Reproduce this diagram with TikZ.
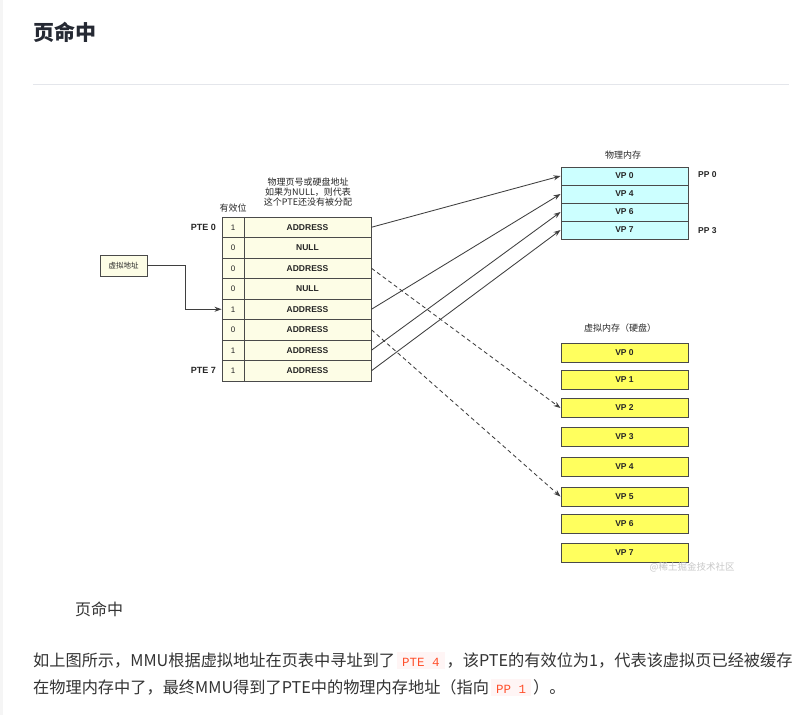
\documentclass[tikz,border=0pt]{standalone}
\usepackage{fontspec}
\usetikzlibrary{arrows.meta}
\newfontfamily\cjk{Noto Sans CJK SC}
\newfontfamily\lib{Liberation Sans}
\newfontfamily\mono{Liberation Mono}
\definecolor{cream}{HTML}{FDFDE6}
\definecolor{cyanf}{HTML}{CCFFFF}
\definecolor{yel}{HTML}{FFFF5E}
\definecolor{bdr}{HTML}{4A4A4A}
\definecolor{lnc}{HTML}{3F3F3F}
\definecolor{txt}{HTML}{333333}
\definecolor{dtxt}{HTML}{262626}
\definecolor{ttl}{HTML}{252933}
\definecolor{rulec}{HTML}{E4E6EB}
\definecolor{codebg}{HTML}{FFF5F5}
\definecolor{codered}{HTML}{FF502C}
\definecolor{wm}{HTML}{C8C8C8}
\definecolor{strip}{HTML}{F5F5F5}
\newcommand\inlinecode[1]{\hspace{2pt}{\setlength{\fboxsep}{0pt}\colorbox{codebg}{\hspace{5pt}\mono\fontsize{12.5}{12.5}\selectfont\textcolor{codered}{#1}\hspace{5pt}\rule[-3pt]{0pt}{17pt}}}\hspace{2pt}}
\tikzset{
  pte/.style={draw=bdr, fill=cream, line width=0.9pt, inner sep=0, minimum height=20.5pt},
  vbit/.style={pte, minimum width=22pt, text=dtxt, font=\lib\fontsize{8}{8}\selectfont},
  addr/.style={pte, minimum width=127pt, text=dtxt, font=\lib\bfseries\fontsize{8.5}{9}\selectfont},
  pmbox/.style={draw=bdr, fill=cyanf, line width=0.9pt, inner sep=0, minimum width=127pt, minimum height=18pt, text=dtxt, font=\lib\bfseries\fontsize{8.5}{9}\selectfont},
  vdbox/.style={draw=bdr, fill=yel, line width=1pt, inner sep=0, minimum width=127pt, minimum height=19pt, text=dtxt, font=\lib\bfseries\fontsize{8.5}{9}\selectfont},
  arr/.style={draw=lnc, line width=0.85pt, -{Stealth[length=7pt,width=5pt]}},
  darr/.style={arr, dash pattern=on 4pt off 3pt},
  lbl/.style={inner sep=0, text=dtxt, font=\cjk\fontsize{9}{10.3}\selectfont},
  blbl/.style={inner sep=0, text=dtxt, font=\lib\bfseries\fontsize{9}{10}\selectfont},
  para/.style={anchor=base west, inner sep=0, text=txt, font=\cjk\fontsize{16.2}{16.2}\selectfont}
}
\begin{document}
\begin{tikzpicture}[x=1pt,y=-1pt]
\useasboundingbox (0,0) rectangle (806,715);
\fill[white] (0,0) rectangle (806,715);
\fill[strip] (0,0) rectangle (2.5,715);
% heading
\node[anchor=base west, inner sep=0, text=ttl, font=\cjk\bfseries\fontsize{21}{21}\selectfont] (title) at (33,40) {页命中};
\draw[rulec, line width=1pt] (33,84) -- (789,84);
% virtual address
\node[draw=bdr, fill=cream, line width=0.9pt, inner sep=0, minimum width=47pt, minimum height=21pt, text=dtxt, font=\cjk\fontsize{7.5}{8}\selectfont] (va) at (123.5,265.5) {虚拟地址};
% page table
\foreach \b/\t [count=\i from 0] in {1/ADDRESS,0/NULL,0/ADDRESS,0/NULL,1/ADDRESS,0/ADDRESS,1/ADDRESS,1/ADDRESS} {
  \node[vbit] (b\i) at (233,{227.25+20.5*\i}) {\b};
  \node[addr] (r\i) at (307.5,{227.25+20.5*\i}) {\t};
}
\node[blbl, anchor=east] (pte0) at (216,227.25) {PTE 0};
\node[blbl, anchor=east] (pte7) at (216,370.75) {PTE 7};
\node[lbl] (valid) at (233,208) {有效位};
\node[lbl, align=center] (hdr) at (308,192) {物理页号或硬盘地址\\如果为NULL，则代表\\这个PTE还没有被分配};
% physical memory
\foreach \t/\y [count=\i from 0] in {VP 0/176,VP 4/194,VP 6/212,VP 7/230} {
  \node[pmbox] (pm\i) at (624.5,\y) {\t};
}
\node[lbl] (pmt) at (623,155) {物理内存};
\node[blbl, anchor=west, font=\lib\bfseries\fontsize{8.5}{9}\selectfont] (pp0) at (698,175) {PP 0};
\node[blbl, anchor=west, font=\lib\bfseries\fontsize{8.5}{9}\selectfont] (pp3) at (698,231) {PP 3};
% virtual memory (disk)
\foreach \y [count=\i from 0] in {352.5,380,408,436.5,466.5,496.5,524,552.5} {
  \pgfmathtruncatemacro\k{\i}
  \node[vdbox] (vd\i) at (624.5,\y) {VP \k};
}
\node[lbl] (vdt) at (620,328) {虚拟内存（硬盘）};
\node[inner sep=0, text=wm, font=\cjk\fontsize{9.5}{10}\selectfont] (wmk) at (692,567) {@稀土掘金技术社区};
% connectors
\draw[arr] (va.east) -- ++(38,0) |- (b4.west);
\draw[arr] (r0.east) -- (pm0.west);
\draw[arr] (r4.east) -- (pm1.west);
\draw[arr] (r6.east) -- (pm2.west);
\draw[arr] (r7.east) -- (pm3.west);
\draw[darr] (r2.east) -- (vd2.west);
\draw[darr] (r5.east) -- (vd5.west);
% caption and paragraph
\node[para, font=\cjk\fontsize{16}{16}\selectfont] (cap) at (75,615) {页命中};
\node[para] (p1) at (33,666) {如上图所示，MMU根据虚拟地址在页表中寻址到了\inlinecode{PTE 4}，该PTE的有效位为1，代表该虚拟页已经被缓存};
\node[para] (p2) at (33,693) {在物理内存中了，最终MMU得到了PTE中的物理内存地址（指向\inlinecode{PP 1}）。};
\end{tikzpicture}
\end{document}
